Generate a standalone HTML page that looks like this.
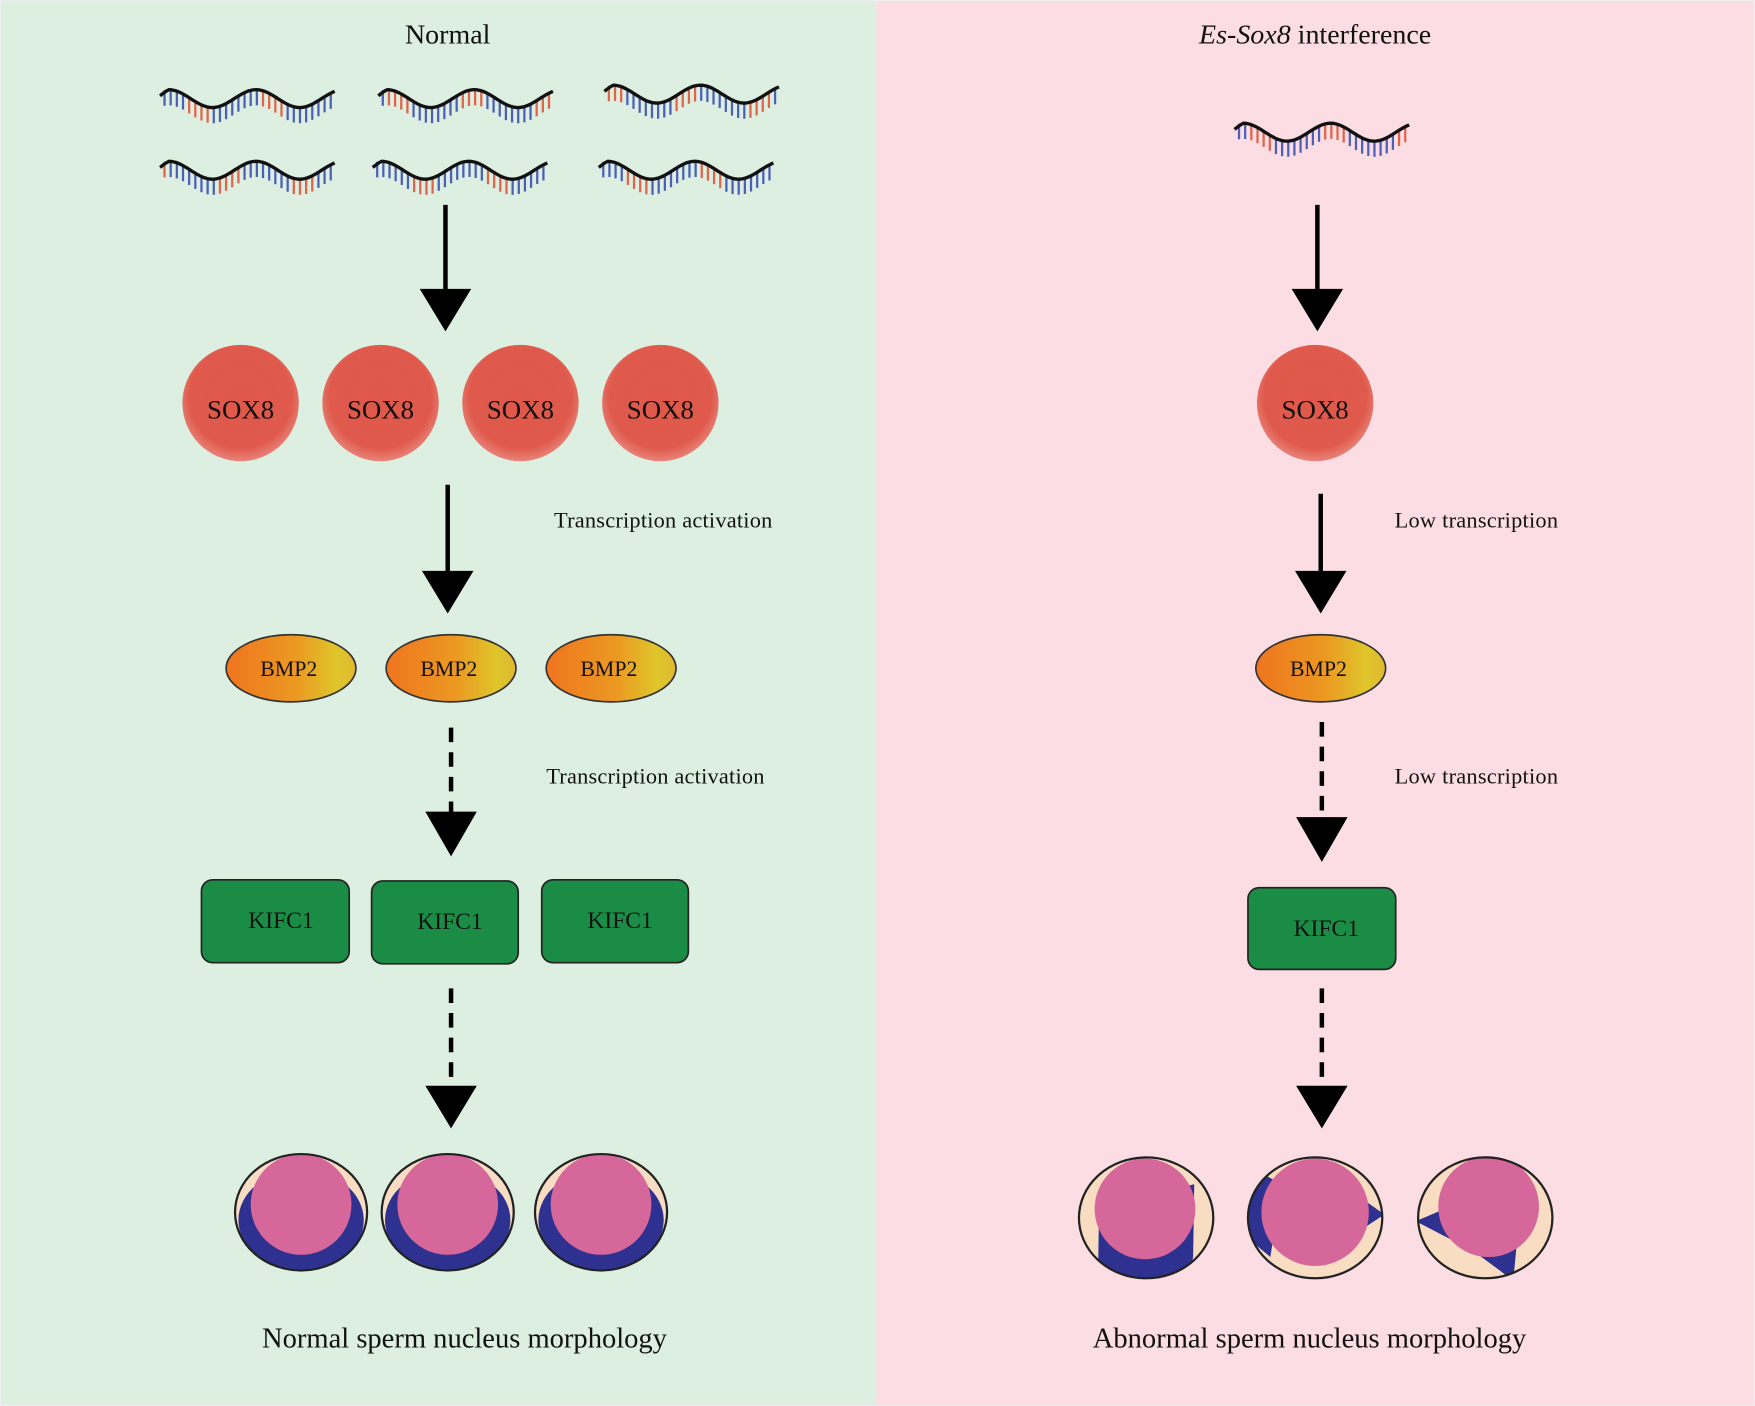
<!DOCTYPE html>
<html><head><meta charset="utf-8"><style>
html,body{margin:0;padding:0;background:#fff;}
svg{display:block;}
text{font-family:"Liberation Serif",serif;fill:#111;}
</style></head><body>
<svg id="s" width="1755" height="1406" viewBox="0 0 1568 1256" xmlns="http://www.w3.org/2000/svg">
<defs>
<radialGradient id="sox" cx="50%" cy="45%" r="55%">
<stop offset="0" stop-color="#e0584a"/><stop offset="0.8" stop-color="#df5a4c"/><stop offset="1" stop-color="#e8837a"/>
</radialGradient>
<linearGradient id="bmp" x1="0" x2="1" y1="0" y2="0">
<stop offset="0" stop-color="#f0741f"/><stop offset="0.55" stop-color="#eb9a22"/><stop offset="0.85" stop-color="#dfc62b"/><stop offset="1" stop-color="#e0b830"/>
</linearGradient>
<clipPath id="c1"><ellipse cx="0" cy="0" rx="59" ry="52"/></clipPath>
<clipPath id="c2"><ellipse cx="0" cy="0" rx="60" ry="54"/></clipPath>
</defs>
<rect x="0" y="0" width="783" height="1256" fill="#dcefe0"/>
<rect x="783" y="0" width="785" height="1256" fill="#fbdde3"/>
<rect x="0.5" y="0.5" width="1567" height="1255" fill="none" stroke="#eee" stroke-width="1"/>

<text x="400" y="39" font-size="25" text-anchor="middle">Normal</text>
<text x="1175" y="39" font-size="25" text-anchor="middle"><tspan font-style="italic">Es-Sox8</tspan> interference</text>

<g id="dna"></g>

<g fill="#000" stroke="#000">
<line x1="398" y1="183" x2="398" y2="262" stroke-width="4"/><polygon points="375,258 421,258 398,296" stroke="none"/>
<line x1="400" y1="433" x2="400" y2="514" stroke-width="4"/><polygon points="377,510 423,510 400,548" stroke="none"/>
<line x1="403" y1="650" x2="403" y2="728" stroke-width="4" stroke-dasharray="13,9"/><polygon points="380,725 426,725 403,765" stroke="none"/>
<line x1="403" y1="883" x2="403" y2="972" stroke-width="4" stroke-dasharray="13,9"/><polygon points="380,970 426,970 403,1008" stroke="none"/>
<line x1="1177" y1="183" x2="1177" y2="262" stroke-width="4"/><polygon points="1154,258 1200,258 1177,296" stroke="none"/>
<line x1="1180" y1="441" x2="1180" y2="514" stroke-width="4"/><polygon points="1157,510 1203,510 1180,548" stroke="none"/>
<line x1="1181" y1="645" x2="1181" y2="733" stroke-width="4" stroke-dasharray="13,9"/><polygon points="1158,730 1204,730 1181,770" stroke="none"/>
<line x1="1181" y1="883" x2="1181" y2="972" stroke-width="4" stroke-dasharray="13,9"/><polygon points="1158,970 1204,970 1181,1008" stroke="none"/>
</g>

<g font-size="20">
<text x="495" y="471" textLength="195">Transcription activation</text>
<text x="488" y="700" textLength="195">Transcription activation</text>
<text x="1246" y="471" textLength="146">Low transcription</text>
<text x="1246" y="700" textLength="146">Low transcription</text>
</g>

<g font-size="24" text-anchor="middle">
<circle cx="215" cy="360" r="52" fill="url(#sox)"/><text x="215" y="374">SOX8</text>
<circle cx="340" cy="360" r="52" fill="url(#sox)"/><text x="340" y="374">SOX8</text>
<circle cx="465" cy="360" r="52" fill="url(#sox)"/><text x="465" y="374">SOX8</text>
<circle cx="590" cy="360" r="52" fill="url(#sox)"/><text x="590" y="374">SOX8</text>
<circle cx="1175" cy="360" r="52" fill="url(#sox)"/><text x="1175" y="374">SOX8</text>
</g>

<g font-size="19.5" text-anchor="middle" stroke-width="1.5">
<ellipse cx="260" cy="597" rx="58" ry="30" fill="url(#bmp)" stroke="#333"/><text x="258" y="604">BMP2</text>
<ellipse cx="403" cy="597" rx="58" ry="30" fill="url(#bmp)" stroke="#333"/><text x="401" y="604">BMP2</text>
<ellipse cx="546" cy="597" rx="58" ry="30" fill="url(#bmp)" stroke="#333"/><text x="544" y="604">BMP2</text>
<ellipse cx="1180" cy="597" rx="58" ry="30" fill="url(#bmp)" stroke="#333"/><text x="1178" y="604">BMP2</text>
</g>

<g font-size="21" text-anchor="middle" stroke="#222" stroke-width="1.5">
<rect x="180" y="786" width="132" height="74" rx="10" fill="#1b8c46"/><text x="251" y="829" stroke="none">KIFC1</text>
<rect x="332" y="787" width="131" height="74" rx="10" fill="#1b8c46"/><text x="402" y="830" stroke="none">KIFC1</text>
<rect x="484" y="786" width="131" height="74" rx="10" fill="#1b8c46"/><text x="554" y="829" stroke="none">KIFC1</text>
<rect x="1115" y="793" width="132" height="73" rx="10" fill="#1b8c46"/><text x="1185" y="836" stroke="none">KIFC1</text>
</g>

<g transform="translate(269,1083)">
<ellipse rx="59" ry="52" fill="#f9ddc3"/>
<ellipse cx="0" cy="7" rx="56" ry="45" fill="#2e3190" clip-path="url(#c1)"/>
<circle cx="0" cy="-7" r="45" fill="#d5679b"/>
<ellipse rx="59" ry="52" fill="none" stroke="#222" stroke-width="2"/>
</g>
<g transform="translate(400,1083)">
<ellipse rx="59" ry="52" fill="#f9ddc3"/>
<ellipse cx="0" cy="7" rx="56" ry="45" fill="#2e3190" clip-path="url(#c1)"/>
<circle cx="0" cy="-7" r="45" fill="#d5679b"/>
<ellipse rx="59" ry="52" fill="none" stroke="#222" stroke-width="2"/>
</g>
<g transform="translate(537,1083)">
<ellipse rx="59" ry="52" fill="#f9ddc3"/>
<ellipse cx="0" cy="7" rx="56" ry="45" fill="#2e3190" clip-path="url(#c1)"/>
<circle cx="0" cy="-7" r="45" fill="#d5679b"/>
<ellipse rx="59" ry="52" fill="none" stroke="#222" stroke-width="2"/>
</g>

<g transform="translate(1024,1088)">
<ellipse rx="60" ry="54" fill="#f9ddc3"/>
<path d="M-42,-10 L-43,50 Q-30,60 0,57 Q40,52 42,35 L43,-30 Z" fill="#2e3190" clip-path="url(#c2)"/>
<circle cx="-1" cy="-8" r="45" fill="#d5679b"/>
<ellipse rx="60" ry="54" fill="none" stroke="#222" stroke-width="2"/>
</g>
<g transform="translate(1175,1088)">
<ellipse rx="60" ry="54" fill="#f9ddc3"/>
<path d="M-48,-40 L-62,-20 L-58,20 L-40,35 L-30,-30 Z" fill="#2e3190" clip-path="url(#c2)"/>
<path d="M45,-15 L62,-3 L45,8 Z" fill="#2e3190" clip-path="url(#c2)"/>
<circle cx="0" cy="-5" r="48" fill="#d5679b"/>
<ellipse rx="60" ry="54" fill="none" stroke="#222" stroke-width="2"/>
</g>
<g transform="translate(1327,1088)">
<ellipse rx="60" ry="54" fill="#f9ddc3"/>
<path d="M-20,-15 L-62,3 L-10,30 L25,56 L28,25 Z" fill="#2e3190" clip-path="url(#c2)"/>
<circle cx="3" cy="-10" r="45" fill="#d5679b"/>
<ellipse rx="60" ry="54" fill="none" stroke="#222" stroke-width="2"/>
</g>

<text x="415" y="1204" font-size="25.5" text-anchor="middle">Normal sperm nucleus morphology</text>
<text x="1170" y="1204" font-size="25.5" text-anchor="middle">Abnormal sperm nucleus morphology</text>
</svg>
<script>
(function(){
var g=document.getElementById('dna');
var pos=[[143,88],[338,88],[540,84],[143,152],[333,152],[535,152],[1103,118]];
var out='';
pos.forEach(function(p,k){
 var x0=p[0],y0=p[1],w=156,d='';
 for(var i=0;i<=w;i+=2){var y=y0-8*Math.sin((i/w)*Math.PI*4+0.3*Math.PI)+ (i<8?4-i/2:0);d+=(i?'L':'M')+(x0+i)+','+y.toFixed(1);}
 for(var i=4;i<w;i+=5.5){var y=y0-8*Math.sin((i/w)*Math.PI*4+0.3*Math.PI);
  var seg=Math.floor((i+k*13)/22)%3;var c=(seg==1)?'#e0634a':'#4a5fb5';
  out+='<line x1="'+(x0+i).toFixed(1)+'" y1="'+y.toFixed(1)+'" x2="'+(x0+i).toFixed(1)+'" y2="'+(y+14).toFixed(1)+'" stroke="'+c+'" stroke-width="2"/>';}
 out+='<path d="'+d+'" fill="none" stroke="#111" stroke-width="3"/>';
});
g.innerHTML=out;
})();
</script>
</body></html>
